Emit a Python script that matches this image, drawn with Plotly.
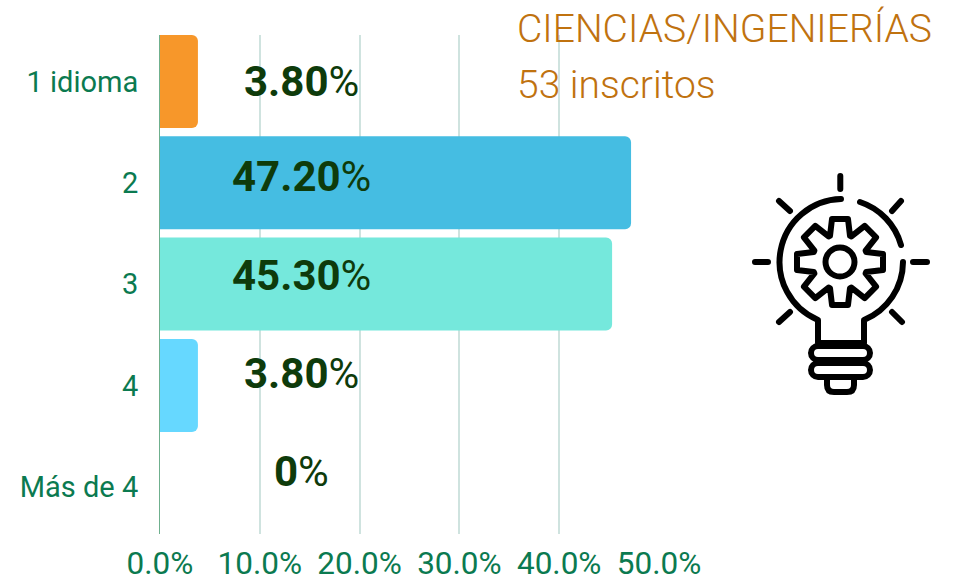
import base64
import numpy as np
import plotly.graph_objects as go

categories = ["1 idioma", "2", "3", "4", "Más de 4"]
values = [3.8, 47.2, 45.3, 3.8, 0.0]
value_labels = ["3.80", "47.20", "45.30", "3.80", "0"]
colors = ["#F7972A", "#45BDE2", "#75E8DC", "#66D8FF", "#66D8FF"]
x_ticks = [0, 10, 20, 30, 40, 50]
x_tick_labels = ["0.0%", "10.0%", "20.0%", "30.0%", "40.0%", "50.0%"]
title_lines = ["CIENCIAS/INGENIERÍAS", "53 inscritos"]

W, H = 955, 581
L, R, T, B = 160, 659, 35, 534
label_x = 14.2
label_px_y = [81, 177, 275, 373, 471]
title_px_y = [29, 85]

GREEN = "#0B7A50"
DARK = "#0E3B0B"
ORANGE = "#C0720F"
FONT = "Roboto"


def gear_path(cx=100, cy=97, root=28, tip=43, hw_root=10, hw_tip=8, n=8):
    pts = []
    for i in range(n):
        a = -np.pi / 2 + i * 2 * np.pi / n
        u = np.array([np.cos(a), np.sin(a)])
        v = np.array([-u[1], u[0]])
        c = np.array([cx, cy])
        rr = np.sqrt(root**2 - hw_root**2)
        for r, h in ((rr, -hw_root), (tip, -hw_tip), (tip, hw_tip), (rr, hw_root)):
            pts.append(c + r * u + h * v)
    return "M" + " L".join(f"{p[0]:.1f} {p[1]:.1f}" for p in pts) + " Z"


icon = f"""<svg xmlns="http://www.w3.org/2000/svg" width="200" height="240" viewBox="0 0 200 240">
<g fill="none" stroke="#000" stroke-width="6" stroke-linecap="round" stroke-linejoin="round">
<path d="M100.3 11V24 M39 36L50 46 M161 36L152 46 M15 97H28 M173 97H187 M39 157L50 147 M162 157L152 147"/>
<path d="M101 34 A63 63 0 0 0 78 155 V178 H124 V155 A63 63 0 0 0 163 97"/>
<path d="M120 37 A63 63 0 0 1 161 80"/>
<rect x="71" y="181" width="59" height="14" rx="7"/>
<rect x="71" y="198" width="59" height="14" rx="7"/>
<path d="M87 213 V220 Q87 227 94 227 H107 Q114 227 114 220 V213"/>
<path d="{gear_path()}"/>
<circle cx="100" cy="97" r="14.5"/>
</g></svg>"""
icon_uri = "data:image/svg+xml;base64," + base64.b64encode(icon.encode()).decode()


def px(p):
    return (p - L) / (R - L)


def py(p):
    return (B - p) / (B - T)


fig = go.Figure(
    go.Bar(
        y=categories,
        x=values,
        orientation="h",
        marker=dict(color=colors, line=dict(width=0)),
        hoverinfo="skip",
    )
)

annotations = [
    dict(
        x=label_x, y=py(p), xref="x", yref="paper", yanchor="middle", xanchor="center",
        text=f"<b>{t}</b>%", showarrow=False,
        font=dict(family=FONT, size=42, color=DARK),
    )
    for t, p in zip(value_labels, label_px_y)
]
for line, p in zip(title_lines, title_px_y):
    annotations.append(dict(
        x=px(515), y=py(p), xref="paper", yref="paper", xanchor="left", yanchor="middle",
        text=line, showarrow=False,
        font=dict(family=FONT, size=39, color=ORANGE, weight=300),
    ))

fig.update_layout(
    width=W, height=H,
    margin=dict(l=L, r=W - R, t=T, b=H - B, pad=0, autoexpand=False),
    paper_bgcolor="white", plot_bgcolor="white",
    bargap=0.082, barcornerradius=6, showlegend=False,
    annotations=annotations,
    images=[dict(
        source=icon_uri, xref="paper", yref="paper",
        x=px(740), y=py(165), sizex=200 / (R - L), sizey=240 / (B - T),
        xanchor="left", yanchor="top", sizing="stretch", layer="above",
    )],
    xaxis=dict(
        range=[0, 50], tickvals=x_ticks, ticktext=x_tick_labels, automargin=False,
        showgrid=True, gridcolor="#CFE3DF", gridwidth=1.5,
        zeroline=False, showline=False, ticks="outside", ticklen=1, tickcolor="rgba(0,0,0,0)",
        tickfont=dict(family=FONT, size=31.5, color=GREEN, weight=400),
    ),
    yaxis=dict(
        range=[4.467, -0.459], type="category", categoryorder="array", categoryarray=categories,
        automargin=False,
        showgrid=False, zeroline=False, showline=True, linecolor="#6FB08E", linewidth=1,
        ticks="outside", ticklen=15, tickcolor="rgba(0,0,0,0)",
        tickfont=dict(family=FONT, size=29, color=GREEN, weight=400),
    ),
)

fig.write_html(
    "out.html",
    config={"displayModeBar": False},
    post_script="document.documentElement.style.margin='0';document.body.style.margin='0';document.body.style.overflow='hidden';",
)
